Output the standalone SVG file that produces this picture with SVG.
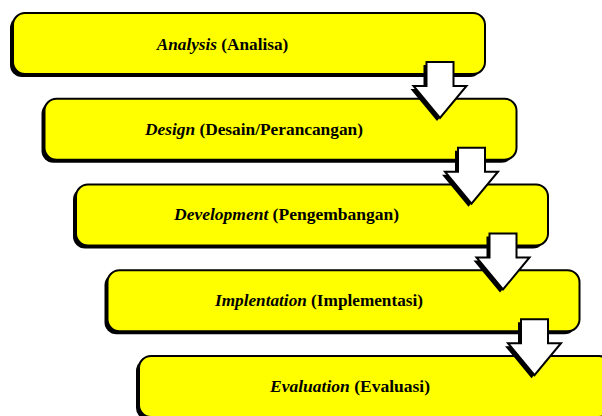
<svg xmlns="http://www.w3.org/2000/svg" width="602" height="416" viewBox="0 0 602 416">
<defs>
<style>
.sh{fill:#000}
.bx{fill:#ffff00;stroke:#000;stroke-width:2}
.ar{fill:#fff;stroke:#000;stroke-width:2;stroke-linejoin:miter}
.i{font-style:italic}
</style>
<polygon id="arrow" points="-13.5,0 13.5,0 13.5,24 26.5,24 0,56 -26.5,24 -13.5,24"/>
</defs>
<rect width="602" height="416" fill="#fff"/>
<g id="n1">
<rect class="sh" x="10" y="16" width="472" height="61" rx="12"/>
<rect class="bx" x="13" y="13" width="472" height="61" rx="12"/>
<text x="222.5" y="50" font-family="Liberation Serif" font-size="17.5" font-weight="bold" text-anchor="middle" textLength="131.5" lengthAdjust="spacingAndGlyphs"><tspan class="i">Analysis</tspan> (Analisa)</text>
</g>
<g id="n2">
<rect class="sh" x="41.5" y="101.75" width="472" height="61" rx="12"/>
<rect class="bx" x="44.5" y="98.75" width="472" height="61" rx="12"/>
<text x="254" y="135" font-family="Liberation Serif" font-size="17.5" font-weight="bold" text-anchor="middle" textLength="218" lengthAdjust="spacingAndGlyphs"><tspan class="i">Design</tspan> (Desain/Perancangan)</text>
</g>
<g id="n3">
<rect class="sh" x="73" y="187.5" width="472" height="61" rx="12"/>
<rect class="bx" x="76" y="184.5" width="472" height="61" rx="12"/>
<text x="286.5" y="220" font-family="Liberation Serif" font-size="17.5" font-weight="bold" text-anchor="middle" textLength="225" lengthAdjust="spacingAndGlyphs"><tspan class="i">Development</tspan> (Pengembangan)</text>
</g>
<g id="n4">
<rect class="sh" x="104.5" y="273.25" width="472" height="61" rx="12"/>
<rect class="bx" x="107.5" y="270.25" width="472" height="61" rx="12"/>
<text x="319" y="306" font-family="Liberation Serif" font-size="17.5" font-weight="bold" text-anchor="middle" textLength="208" lengthAdjust="spacingAndGlyphs"><tspan class="i">Implentation</tspan> (Implementasi)</text>
</g>
<g id="n5">
<rect class="sh" x="136" y="359" width="472" height="61" rx="12"/>
<rect class="bx" x="139" y="356" width="472" height="61" rx="12"/>
<text x="350" y="391.5" font-family="Liberation Serif" font-size="17.5" font-weight="bold" text-anchor="middle" textLength="160" lengthAdjust="spacingAndGlyphs"><tspan class="i">Evaluation</tspan> (Evaluasi)</text>
</g>
<g id="connectors">
<g transform="translate(440,62)"><use href="#arrow" class="sh" x="-3" y="3"/><use href="#arrow" class="ar"/></g>
<g transform="translate(471.5,147.75)"><use href="#arrow" class="sh" x="-3" y="3"/><use href="#arrow" class="ar"/></g>
<g transform="translate(503,233.5)"><use href="#arrow" class="sh" x="-3" y="3"/><use href="#arrow" class="ar"/></g>
<g transform="translate(534.5,319.25)"><use href="#arrow" class="sh" x="-3" y="3"/><use href="#arrow" class="ar"/></g>
</g>
</svg>
